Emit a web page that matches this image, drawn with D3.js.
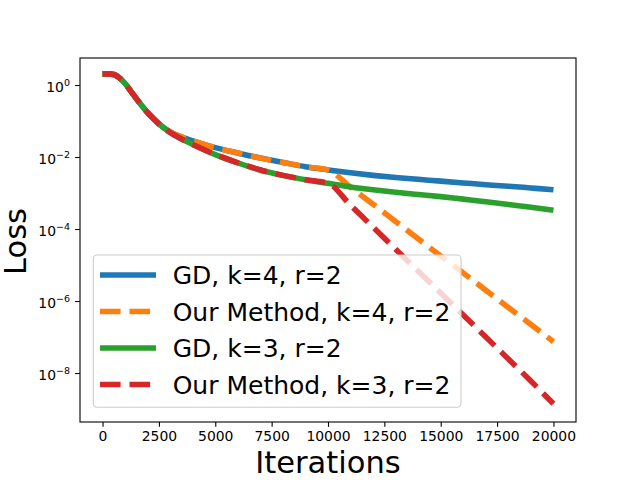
<!DOCTYPE html>
<html lang="en">
<head>
    <meta charset="UTF-8">
    <title>Loss</title>
    <script src="https://cdn.jsdelivr.net/npm/d3@7/dist/d3.min.js"></script>
    <style>
        body { margin: 0; background: #fff; }
        text { font-family: "DejaVu Sans", sans-serif; }
    </style>
</head>
<body>
<script type="text/javascript">
    var iters = [0, 250, 500, 750, 1000, 1250, 1500, 1750, 2000, 2250, 2500, 3000, 3500, 4000,
        5000, 6000, 7000, 8000, 9000, 10000, 11000, 12000, 13000, 14000, 15000, 16000,
        17000, 18000, 19000, 20000];

    var gdK4 = [2.04, 2.04, 1.95, 1.58, 1.10, 0.676, 0.417, 0.263, 0.170, 0.117, 0.0832, 0.0501,
        0.0363, 0.0282, 0.0182, 0.0129, 0.00933, 0.00708, 0.00537, 0.00437, 0.00363, 0.00309,
        0.00269, 0.00240, 0.00214, 0.00191, 0.00170, 0.00155, 0.00138, 0.00123];
    var oursK4 = [2.04, 2.04, 1.95, 1.58, 1.10, 0.676, 0.417, 0.263, 0.170, 0.117, 0.0832, 0.0501,
        0.0363, 0.0282, 0.0182, 0.0129, 0.00933, 0.00708, 0.00537, 0.00437, 1.45e-3, 4.9e-4,
        1.62e-4, 5.37e-5, 1.78e-5, 6.03e-6, 2.0e-6, 6.6e-7, 2.24e-7, 7.4e-8];
    var gdK3 = [2.04, 2.04, 1.95, 1.58, 1.10, 0.676, 0.417, 0.263, 0.170, 0.117, 0.0832, 0.0479,
        0.0316, 0.0224, 0.0117, 0.00692, 0.00437, 0.00309, 0.00234, 0.00186, 0.00148, 0.00123,
        0.00105, 0.000912, 0.000794, 0.000676, 0.000575, 0.000480, 0.000400, 0.000330];
    var oursK3 = [2.04, 2.04, 1.95, 1.58, 1.10, 0.676, 0.417, 0.263, 0.170, 0.117, 0.0832, 0.0479,
        0.0316, 0.0224, 0.0117, 0.00692, 0.00437, 0.00309, 0.00234, 0.00186, 4.57e-4, 1.12e-4,
        2.75e-5, 6.76e-6, 1.66e-6, 4.07e-7, 1.0e-7, 2.45e-8, 6.0e-9, 1.40e-9];

    var seriesNames = ["GD, k=4, r=2", "Our Method, k=4, r=2", "GD, k=3, r=2", "Our Method, k=3, r=2"];
    var xTicks = [0, 2500, 5000, 7500, 10000, 12500, 15000, 17500, 20000];
    var yTicks = [1e0, 1e-2, 1e-4, 1e-6, 1e-8];
    var yTickExps = ["0", "\u22122", "\u22124", "\u22126", "\u22128"];

    var width = 640;
    var height = 480;
    var plot = {left: 80, right: 576, top: 58, bottom: 422};
    var colors = ["#1f77b4", "#ff7f0e", "#2ca02c", "#d62728"];
    var dashes = [null, "20.6,8.9", null, "20.6,8.9"];
    var seriesValues = [gdK4, oursK4, gdK3, oursK3];

    var svg = d3.select('body').append('svg')
            .attr('width', width)
            .attr('height', height);

    var xScale = d3.scaleLinear()
            .domain([-1000, 21000])
            .range([plot.left, plot.right]);
    var yScale = d3.scaleLog()
            .domain([Math.pow(10, -9.36), Math.pow(10, 0.75)])
            .range([plot.bottom, plot.top]);

    svg.append("clipPath").attr("id", "clip")
            .append("rect")
            .attr("x", plot.left).attr("y", plot.top)
            .attr("width", plot.right - plot.left)
            .attr("height", plot.bottom - plot.top);

    var line = d3.line()
            .x(function (d) { return xScale(d[0]); })
            .y(function (d) { return yScale(d[1]); })
            .curve(d3.curveMonotoneX);

    var lines = svg.append("g").attr("clip-path", "url(#clip)");
    seriesValues.forEach(function (vals, s) {
        var pts = iters.map(function (it, i) { return [it, vals[i]]; });
        lines.append("path")
                .datum(pts)
                .attr("d", line)
                .attr("fill", "none")
                .attr("stroke", colors[s])
                .attr("stroke-width", 5.56)
                .attr("stroke-linejoin", "round")
                .attr("stroke-dasharray", dashes[s]);
    });

    // axes
    var xAxis = d3.axisBottom(xScale)
            .tickValues(xTicks)
            .tickFormat(d3.format("d"))
            .tickSize(4.86);
    var gx = svg.append("g")
            .attr("transform", "translate(0," + plot.bottom + ")")
            .call(xAxis);
    gx.select(".domain").remove();
    gx.selectAll("line").attr("stroke", "#000").attr("stroke-width", 1.1);
    gx.selectAll("text")
            .attr("y", 19).attr("dy", 0)
            .attr("fill", "#000")
            .style("font-size", "13.9px");

    var yAxis = d3.axisLeft(yScale)
            .tickValues(yTicks)
            .tickSize(4.86);
    var gy = svg.append("g")
            .attr("transform", "translate(" + plot.left + ",0)")
            .call(yAxis);
    gy.select(".domain").remove();
    gy.selectAll("line").attr("stroke", "#000").attr("stroke-width", 1.1);
    gy.selectAll("text")
            .text("")
            .attr("x", -10).attr("dy", 0).attr("y", 6.5)
            .attr("fill", "#000")
            .style("font-size", "13.9px")
            .each(function (d, i) {
                var t = d3.select(this);
                t.append("tspan").text("10");
                t.append("tspan")
                        .attr("dy", -5.6)
                        .style("font-size", "9.5px")
                        .text(yTickExps[i]);
            });

    svg.append("rect")
            .attr("x", plot.left).attr("y", plot.top)
            .attr("width", plot.right - plot.left)
            .attr("height", plot.bottom - plot.top)
            .attr("fill", "none")
            .attr("stroke", "#000")
            .attr("stroke-width", 1.1);

    // axis labels
    svg.append("text")
            .attr("x", (plot.left + plot.right) / 2)
            .attr("y", 472.5)
            .attr("text-anchor", "middle")
            .style("font-size", "30.5px")
            .text("Iterations");
    svg.append("text")
            .attr("transform", "translate(26,241.5) rotate(-90)")
            .attr("text-anchor", "middle")
            .style("font-size", "30.5px")
            .text("Loss");

    // legend
    var legend = svg.append("g");
    legend.append("rect")
            .attr("x", 93.3).attr("y", 255)
            .attr("width", 367.7).attr("height", 152.3)
            .attr("rx", 4)
            .attr("fill", "#fff").attr("fill-opacity", 0.8)
            .attr("stroke", "#cccccc").attr("stroke-width", 1.1);
    var rows = legend.selectAll("g.row")
            .data(seriesNames)
            .enter().append("g")
            .attr("class", "row")
            .attr("transform", function (d, i) { return "translate(0," + (275 + i * 36.5) + ")"; });
    rows.append("line")
            .attr("x1", 100).attr("x2", 156)
            .attr("stroke", function (d, i) { return colors[i]; })
            .attr("stroke-width", 5.56)
            .attr("stroke-dasharray", function (d, i) { return dashes[i]; });
    rows.append("text")
            .attr("x", 172.7).attr("y", 9.3)
            .style("font-size", "25px")
            .text(function (d) { return d; });
</script>
</body>
</html>
